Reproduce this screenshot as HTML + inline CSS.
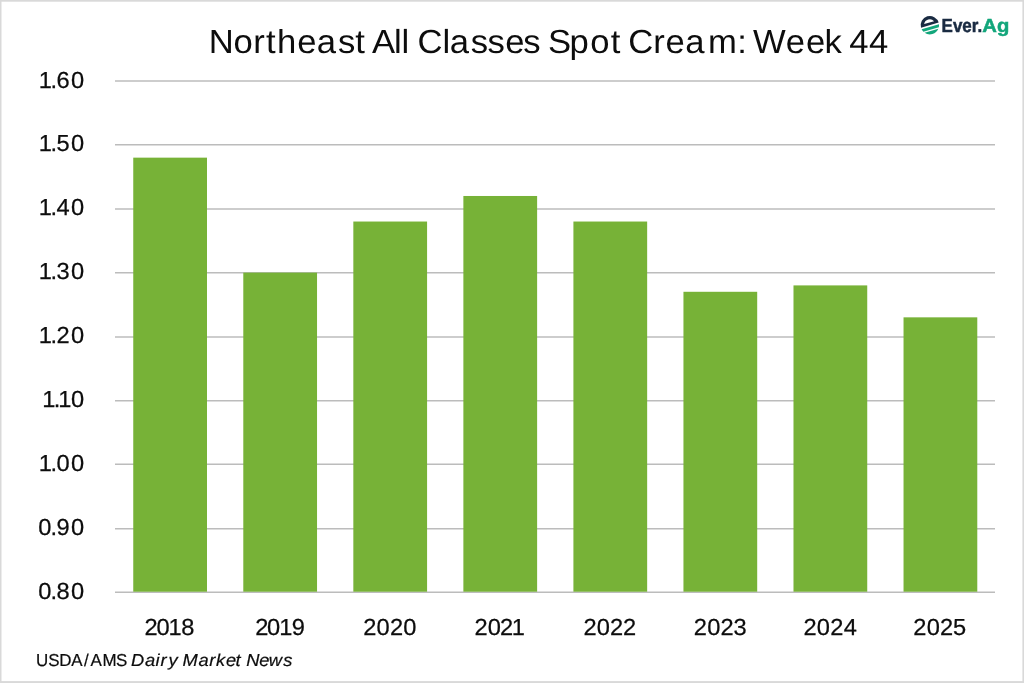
<!DOCTYPE html>
<html lang="en">
<head>
<meta charset="utf-8">
<title>Northeast All Classes Spot Cream: Week 44</title>
<style>
html,body{margin:0;padding:0;background:#fff;}
body{width:1024px;height:683px;overflow:hidden;position:relative;font-family:"Liberation Sans",sans-serif;}
#chart{position:absolute;left:0;top:0;width:1024px;height:683px;display:block;}
text{font-family:"Liberation Sans",sans-serif;white-space:pre;text-rendering:geometricPrecision;}
</style>
</head>
<body>
<svg id="chart" width="1024" height="683" viewBox="0 0 1024 683">
<rect x="0" y="0" width="1024" height="683" fill="#ffffff"/>
<g id="gridlines" stroke="#bcbcbc" stroke-width="1.5" fill="none">
<line x1="115" x2="995" y1="81.0" y2="81.0"/>
<line x1="115" x2="995" y1="144.65" y2="144.65"/>
<line x1="115" x2="995" y1="209.0" y2="209.0"/>
<line x1="115" x2="995" y1="272.65" y2="272.65"/>
<line x1="115" x2="995" y1="337.0" y2="337.0"/>
<line x1="115" x2="995" y1="400.65" y2="400.65"/>
<line x1="115" x2="995" y1="464.15" y2="464.15"/>
<line x1="115" x2="995" y1="528.65" y2="528.65"/>
<line x1="115" x2="995" y1="592.15" y2="592.15"/>
</g>
<g id="bars" fill="#77b237">
<rect x="133.25" y="157.65" width="73.75" height="434.05"/>
<rect x="243.29" y="272.62" width="73.75" height="319.08"/>
<rect x="353.33" y="221.53" width="73.75" height="370.17"/>
<rect x="463.37" y="195.98" width="73.75" height="395.72"/>
<rect x="573.41" y="221.53" width="73.75" height="370.17"/>
<rect x="683.45" y="291.79" width="73.75" height="299.91"/>
<rect x="793.49" y="285.40" width="73.75" height="306.30"/>
<rect x="903.53" y="317.34" width="73.75" height="274.36"/>
</g>
<g id="logo">
<g transform="translate(929.85 25.2) rotate(-16.3)">
<path fill="#1a2b42" fill-rule="evenodd" d="M -9.2 0 A 9.2 9.2 0 0 1 9.2 0 Z M -5.2 -2.7 A 5.86 5.86 0 0 1 5.2 -2.7 Z"/>
<path fill="#12a67b" d="M -9.05 1.65 L 9.05 1.65 A 9.2 9.2 0 0 1 8.02 4.5 L -8.02 4.5 A 9.2 9.2 0 0 1 -9.05 1.65 Z"/>
<path fill="#12a67b" d="M -7.14 5.8 L 7.14 5.8 A 9.2 9.2 0 0 1 -7.14 5.8 Z"/>
</g>
<text x="941.58" y="32" font-size="18.9" textLength="40.54" lengthAdjust="spacingAndGlyphs" fill="#1a2b42" stroke="#1a2b42" stroke-width="0.5" font-weight="700">Ever.</text>
<text x="982.39" y="32" font-size="19.0" textLength="26.94" lengthAdjust="spacingAndGlyphs" fill="#12a67b" stroke="#12a67b" stroke-width="0.5" font-weight="700">Ag</text>
</g>
<g id="frame" fill="#d9d9d9">
<rect x="0" y="0" width="1024" height="1.7"/>
<rect x="0" y="0" width="1.5" height="683"/>
<rect x="1022.4" y="0" width="1.6" height="683"/>
<rect x="0" y="681.1" width="1024" height="1.9"/>
</g>
<text transform="scale(1.04 1)" font-size="33.3" fill="#0d0d0d" id="title" x="200.78 224.42 243.51 255.74 266.36 285.71 304.47 324.92 341.48 351.47 357.79 378.94 386.09 392.25 401.51 425.58 432.46 452.62 468.87 485.76 503.21 519.70 526.86 547.70 567.64 587.27 597.26 604.15 628.17 639.80 658.80 680.81 708.80 716.04 724.03 755.62 775.09 792.72 810.37 816.70 835.51" y="52.9">Northeast All Classes Spot Cream: Week 44</text>
<g id="source">
<text transform="scale(0.98 1)" font-size="17.3" fill="#0d0d0d" stroke="#0d0d0d" stroke-width="0.2" x="36.72 49.20 60.45 72.59 85.81 92.24 104.59 118.33" y="666">USDA/AMS</text>
<text transform="scale(1.06 1)" font-size="17.3" fill="#0d0d0d" font-style="italic" stroke="#0d0d0d" stroke-width="0.2" x="123.70 136.84 146.80 151.35 158.99 169.51 172.09 187.17 197.50 203.89 213.14 222.24 228.64 232.21 244.52 253.44 267.28" y="666">Dairy Market News</text>
</g>
<g id="ticks" font-size="23.2" fill="#0d0d0d" stroke="#0d0d0d" stroke-width="0.25">
<text transform="scale(1.02 1)" x="38.10 49.40 55.34 69.61" y="88.00">1.60</text>
<text transform="scale(1.02 1)" x="38.10 49.40 55.42 69.61" y="151.00">1.50</text>
<text transform="scale(1.02 1)" x="38.10 49.40 55.48 69.61" y="215.00">1.40</text>
<text transform="scale(1.02 1)" x="38.10 49.40 55.48 69.61" y="279.00">1.30</text>
<text transform="scale(1.02 1)" x="38.10 49.40 55.42 69.61" y="343.00">1.20</text>
<text transform="scale(1.02 1)" x="41.43 52.72 57.00 69.51" y="407.00">1.10</text>
<text transform="scale(1.02 1)" x="38.10 49.40 55.40 69.61" y="471.00">1.00</text>
<text transform="scale(1.02 1)" x="37.41 49.40 55.42 69.61" y="535.00">0.90</text>
<text transform="scale(1.02 1)" x="37.41 49.40 55.42 69.61" y="599.00">0.80</text>
<text transform="scale(1.02 1)" x="141.67 153.34 165.27 177.73" y="635.00">2018</text>
<text transform="scale(1.02 1)" x="250.17 261.84 273.77 286.11" y="635.00">2019</text>
<text transform="scale(1.02 1)" x="356.23 369.24 382.30 395.31" y="635.00">2020</text>
<text transform="scale(1.02 1)" x="465.09 478.10 490.14 501.78" y="635.00">2021</text>
<text transform="scale(1.02 1)" x="571.99 585.00 598.07 610.91" y="635.00">2022</text>
<text transform="scale(1.02 1)" x="680.26 693.27 706.34 719.04" y="635.00">2023</text>
<text transform="scale(1.02 1)" x="787.81 800.82 813.88 827.23" y="635.00">2024</text>
<text transform="scale(1.02 1)" x="895.46 908.47 921.53 934.28" y="635.00">2025</text>
</g>
</svg>
</body>
</html>
